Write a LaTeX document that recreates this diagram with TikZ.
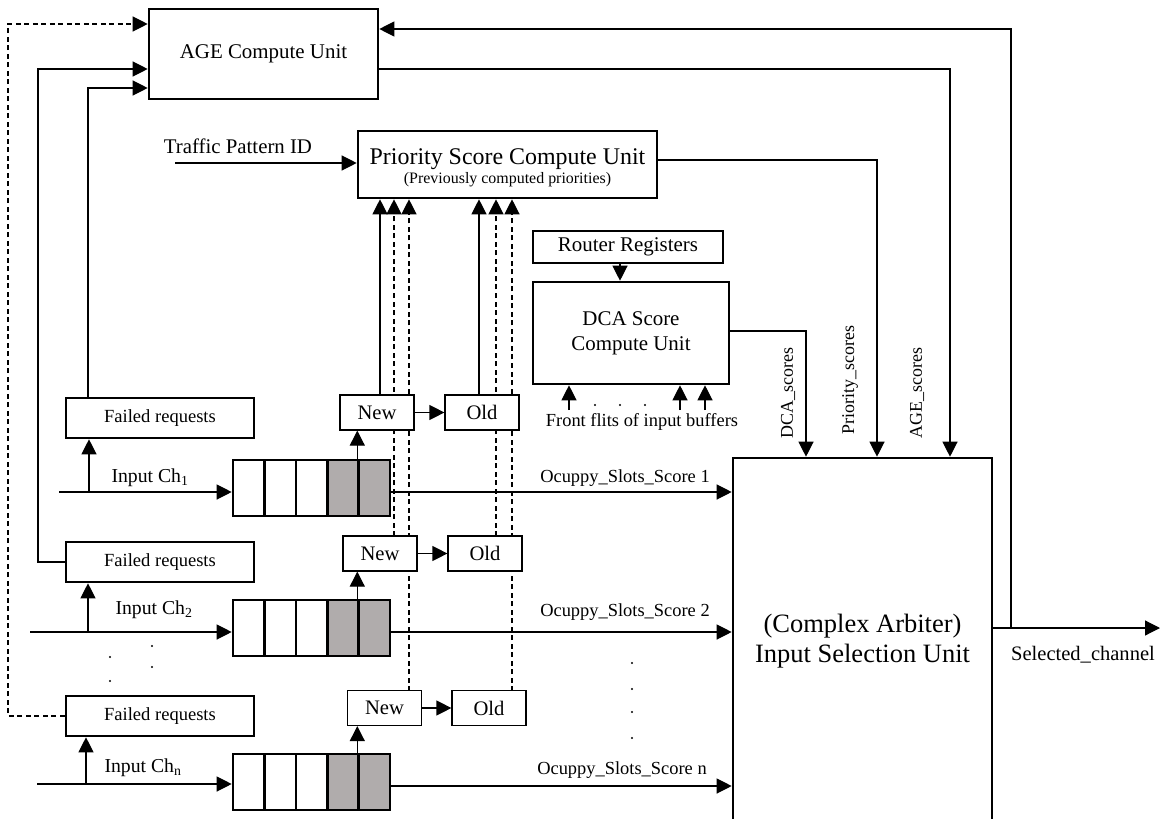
\documentclass[tikz,border=0pt]{standalone}
\usepackage{fontspec}
\setmainfont{Liberation Serif}
\usetikzlibrary{arrows.meta}
\definecolor{cellgray}{RGB}{176,172,172}
\newcommand\fs[1]{\fontsize{#1}{#1}\selectfont}
\begin{document}
\begin{tikzpicture}[x=1bp,y=-1bp,
  conn/.style={line width=1.2bp},
  arr/.style={conn,-{Triangle[length=15bp,width=15bp]}},
  dashline/.style={dash pattern=on 5bp off 3.5bp},
  bigbox/.style={draw,line width=2.6bp,fill=white,inner sep=0pt,align=center},
  smallbox/.style={draw,line width=1.2bp,fill=white,inner sep=0pt,minimum width=74bp,minimum height=35bp,font=\fs{20.7}},
  failbox/.style={bigbox,minimum width=188bp,minimum height=40bp,font=\fs{18.6}},
  cell/.style={draw,line width=2.6bp,inner sep=0pt,minimum width=31.4bp,minimum height=56bp},
  graycell/.style={cell,fill=cellgray},
  lbl/.style={inner sep=0pt}]
\useasboundingbox (0,0) rectangle (1162,819);

% ---------- x positions of the dashed verticals ----------
\coordinate (d1) at (394,0);
\coordinate (d2) at (409,0);
\coordinate (d3) at (496,0);
\coordinate (d4) at (512,0);

% ---------- main boxes ----------
\node[bigbox,minimum width=229bp,minimum height=90bp,font=\fs{21}] (age) at (263.5,54) {AGE Compute Unit};
\node[bigbox,minimum width=299bp,minimum height=67bp] (pr) at (507.5,164.5) {};
\node[lbl,anchor=base,font=\fs{24}] (prt) at (507.5,164) {Priority Score Compute Unit};
\node[lbl,anchor=base,font=\fs{16}] (prs) at (507.5,183) {(Previously computed priorities)};
\node[bigbox,minimum width=190bp,minimum height=32bp,font=\fs{21}] (rr) at (628,247) {Router Registers};
\node[bigbox,minimum width=196bp,minimum height=102bp,font=\fontsize{21}{25}\selectfont] (dca) at (631,333) {DCA Score\\Compute Unit};
\node[bigbox,minimum width=259bp,minimum height=366bp,font=\fontsize{26.6}{30}\selectfont] (arb) at (862.5,641) {(Complex Arbiter)\\Input Selection Unit};

% ---------- failed requests ----------
\node[failbox] (f1) at (160,418) {Failed requests};
\node[failbox] (f2) at (160,562) {Failed requests};
\node[failbox] (f3) at (160,716) {Failed requests};

% ---------- buffers ----------
\foreach \k/\yy in {1/488,2/628,3/782}{
  \foreach \i in {1,2,3}{
    \node[cell] (b\k c\i) at ({233+31.4*(\i-0.5)},\yy) {};
  }
  \foreach \i in {4,5}{
    \node[graycell] (b\k c\i) at ({233+31.4*(\i-0.5)},\yy) {};
  }
}

% ---------- dashed lines to priority unit (behind boxes) ----------
\draw[arr,dashline] (d1 |- 0,536) -- (d1 |- pr.south);
\draw[arr,dashline] (d2 |- 0,691) -- (d2 |- pr.south);
\draw[arr,dashline] (d3 |- 0,536) -- (d3 |- pr.south);
\draw[arr,dashline] (d4 |- 0,691) -- (d4 |- pr.south);

% ---------- New / Old ----------
\node[smallbox] (n1) at (377,412.5) {New};
\node[smallbox] (o1) at (482,412.5) {Old};
\node[smallbox] (n2) at (380,553.5) {New};
\node[smallbox] (o2) at (485,553.5) {Old};
\node[smallbox] (n3) at (384.5,708) {New};
\node[smallbox] (o3) at (489,708) {Old};
\draw[arr] (n1.east) -- (o1.west);
\draw[arr] (n2.east) -- (o2.west);
\draw[arr] (n3.east) -- (o3.west);
\draw[arr] (380,0 |- n1.north) -- (380,0 |- pr.south);
\draw[arr] (479,0 |- o1.north) -- (479,0 |- pr.south);

% buffers to New
\draw[arr] (b1c5.north west) -- (b1c5.north west |- n1.south);
\draw[arr] (b2c5.north west) -- (b2c5.north west |- n2.south);
\draw[arr] (b3c5.north west) -- (b3c5.north west |- n3.south);

% ---------- inputs ----------
\coordinate (in1) at (59,492);
\coordinate (in2) at (30,632);
\coordinate (inn) at (37,784);
\draw[arr] (in1) -- (in1 -| b1c1.west);
\draw[arr] (in2) -- (in2 -| b2c1.west);
\draw[arr] (inn) -- (inn -| b3c1.west);
\draw[arr] (89,0 |- in1) -- (89,0 |- f1.south);
\draw[arr] (88,0 |- in2) -- (88,0 |- f2.south);
\draw[arr] (86,0 |- inn) -- (86,0 |- f3.south);
\node[lbl,font=\fs{19.8}] (l1) at (150,478) {Input Ch\textsubscript{1}};
\node[lbl,font=\fs{19.8}] (l2) at (154,610) {Input Ch\textsubscript{2}};
\node[lbl,font=\fs{19.8}] (l3) at (143,768) {Input Ch\textsubscript{n}};

% ---------- failed requests to AGE ----------
\draw[arr] (88,0 |- f1.north) |- (0,88 -| age.west);
\draw[arr] (f2.west) -| (38,69) -- (38,69 -| age.west);
\draw[arr,dashline] (f3.west) -| (8,24) -- (8,24 -| age.west);

% ---------- occupancy scores ----------
\draw[arr] (b1c5.east |- in1) -- (arb.west |- in1);
\draw[arr] (b2c5.east |- in2) -- (arb.west |- in2);
\draw[arr] (b3c5.east |- 0,786) -- (arb.west |- 0,786);
\node[lbl,font=\fs{18.5}] (s1) at (625,478) {Ocuppy\_Slots\_Score 1};
\node[lbl,font=\fs{18.5}] (s2) at (625,612) {Ocuppy\_Slots\_Score 2};
\node[lbl,font=\fs{18.5}] (s3) at (622,770) {Ocuppy\_Slots\_Score n};

% ---------- traffic pattern ----------
\coordinate (tp) at (175,163);
\draw[arr] (tp) -- (tp -| pr.west);
\node[lbl,font=\fs{20.9}] (tpl) at (238,146) {Traffic Pattern ID};

% ---------- DCA ----------
\draw[arr] (620,0 |- rr.south) -- (620,0 |- dca.north);
\coordinate (ff1) at (569,410);
\coordinate (ff2) at (680,410);
\coordinate (ff3) at (705,410);
\draw[arr] (ff1) -- (ff1 |- dca.south);
\draw[arr] (ff2) -- (ff2 |- dca.south);
\draw[arr] (ff3) -- (ff3 |- dca.south);
\foreach \xx in {595,620,645} \fill (\xx,405) circle (1.1bp);
\node[lbl,font=\fs{18.5}] (ffl) at (642,422) {Front flits of input buffers};

% ---------- scores into arbiter ----------
\draw[arr] (dca.east |- 0,331) -| (806,0 |- arb.north);
\draw[arr] (pr.east |- 0,160) -| (877,0 |- arb.north);
\draw[arr] (age.east |- 0,69) -| (950,0 |- arb.north);
\node[lbl,rotate=90,font=\fs{18}] (dsl) at (788,393) {DCA\_scores};
\node[lbl,rotate=90,font=\fs{18}] (psl) at (850,380) {Priority\_scores};
\node[lbl,rotate=90,font=\fs{18}] (asl) at (917,393) {AGE\_scores};

% ---------- output ----------
\coordinate (sel) at (1160,628);
\draw[arr] (arb.east |- sel) -- (sel);
\draw[arr] (1011,0 |- sel) |- (0,29 -| age.east);
\node[lbl,font=\fs{20.6}] (sell) at (1083,655) {Selected\_channel};

% ---------- dots ----------
\foreach \p in {(110,657),(110,681),(152,646),(152,667),(632,663),(632,689),(632,712),(632,738)} \fill \p circle (1.1bp);
\end{tikzpicture}
\end{document}
